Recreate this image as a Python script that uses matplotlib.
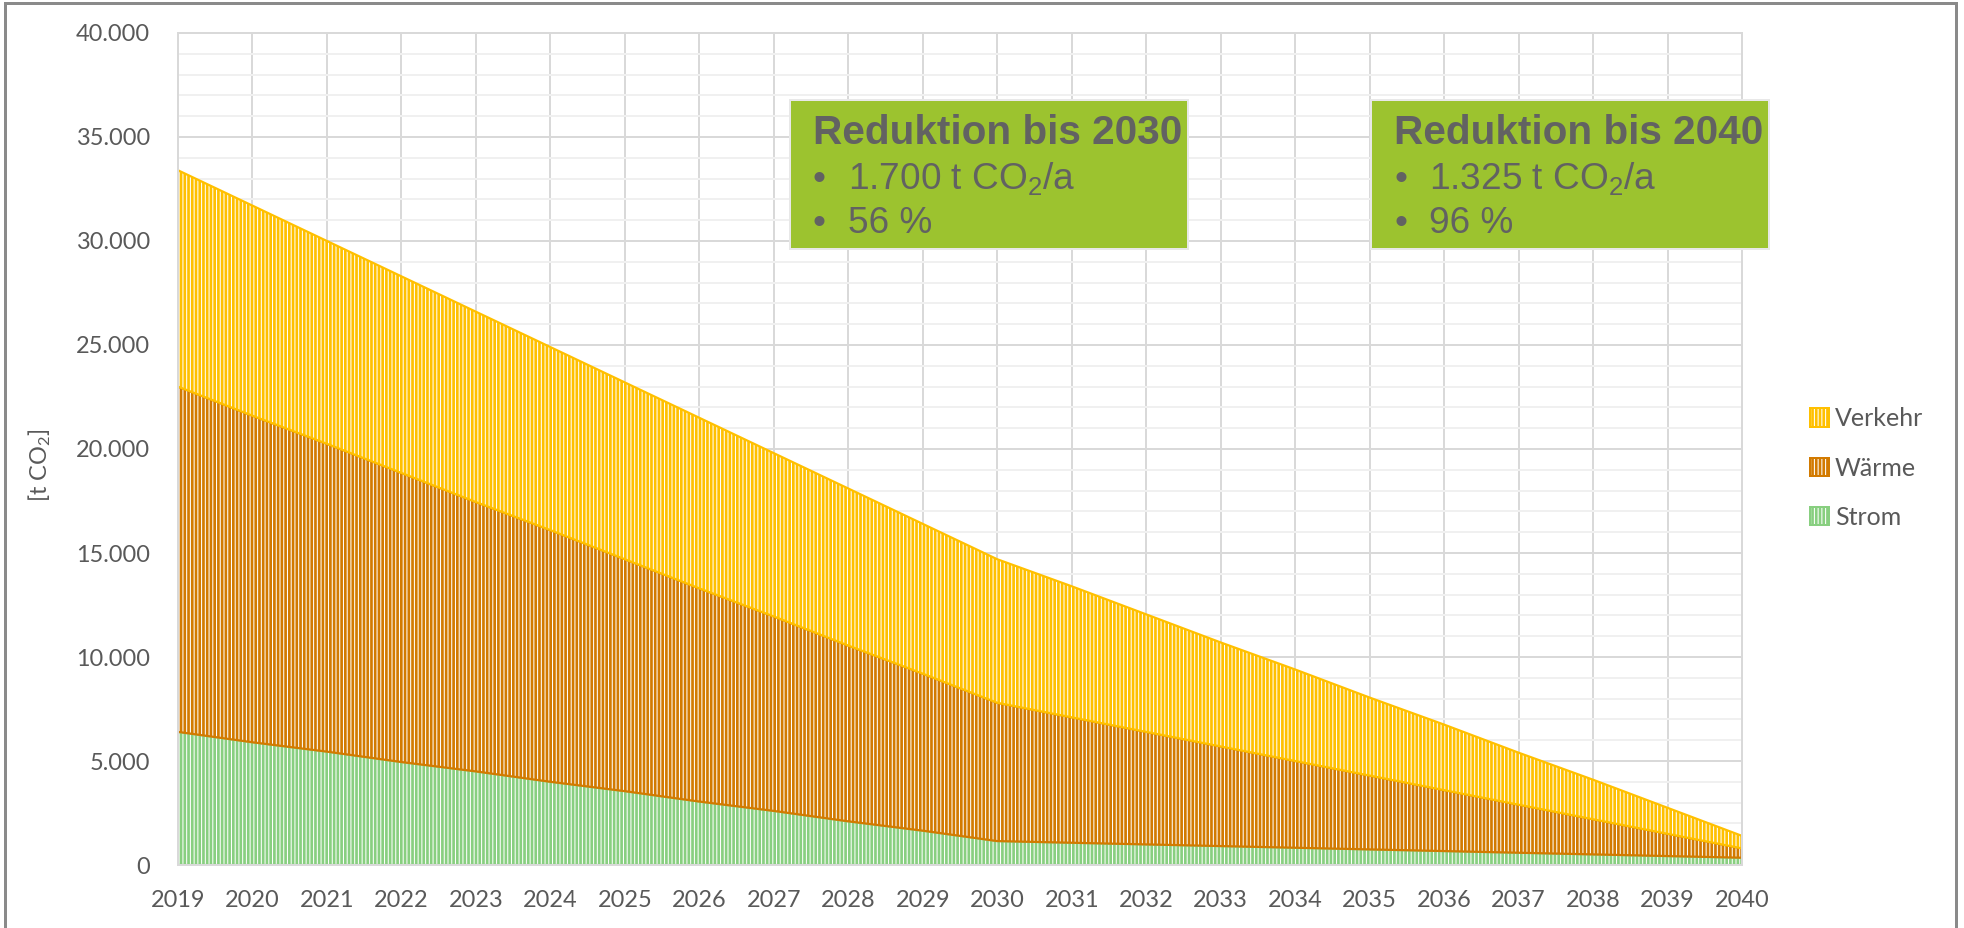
import numpy as np
import matplotlib.pyplot as plt
from matplotlib.patches import Rectangle, Patch
from matplotlib.ticker import MultipleLocator, FuncFormatter

years = list(range(2019, 2041))
strom = [6400, 5900, 5450, 4950, 4500, 4000, 3550, 3050, 2600, 2100, 1650,
         1150, 1070, 990, 910, 830, 750, 670, 590, 510, 430, 350]
waerme = [16600, 15700, 14800, 13900, 12950, 12100, 11150, 10250, 9350, 8450, 7550,
          6650, 6030, 5410, 4790, 4170, 3550, 2930, 2310, 1690, 1070, 450]
verkehr = [10400, 10100, 9750, 9450, 9150, 8800, 8500, 8200, 7850, 7550, 7200,
           6900, 6300, 5650, 5000, 4400, 3750, 3150, 2500, 1900, 1250, 600]
names = ["Strom", "Wärme", "Verkehr"]
colors = ["#88cf80", "#d27a00", "#ffc000"]

box_titles = ["Reduktion bis 2030", "Reduktion bis 2040"]
box_lines = [["1.700 t CO$\\mathregular{_2}$/a", "56 %"],
             ["1.325 t CO$\\mathregular{_2}$/a", "96 %"]]

W, H = 1964, 928
DPI = 112.5  # hatch tile = 1 inch, this gives ~3.75 px stripe spacing


def fx(px):
    return px / W


def fy(py):
    return 1 - py / H


def pt(px):
    return px * 72 / DPI


plt.rcParams['hatch.linewidth'] = pt(2.7)
plt.rcParams['font.family'] = ['Lato', 'DejaVu Sans']
grey = "#595959"

fig = plt.figure(figsize=(W / DPI, H / DPI), dpi=DPI)
ax = fig.add_axes([fx(178), fy(865), fx(1742) - fx(178), fy(33) - fy(865)])

base = np.zeros(len(years))
for vals, name, col in zip([strom, waerme, verkehr], names, colors):
    top = base + np.array(vals)
    ax.fill_between(years, base, top, facecolor="white", edgecolor=col,
                    hatch="|||||", linewidth=pt(2.2), zorder=2)
    base = top

ax.set_xlim(2019, 2040)
ax.set_ylim(0, 40000)
ax.set_xticks(years)
ax.yaxis.set_major_locator(MultipleLocator(5000))
ax.yaxis.set_minor_locator(MultipleLocator(1000))
ax.yaxis.set_major_formatter(FuncFormatter(lambda v, p: f"{int(v):,}".replace(",", ".")))
ax.set_axisbelow(True)
ax.grid(which="major", color="#d9d9d9", linewidth=pt(2))
ax.grid(which="minor", axis="y", color="#f0f0f0", linewidth=pt(2))
ax.tick_params(which="both", length=0, colors=grey, labelsize=pt(23.5))
ax.tick_params(axis="y", pad=pt(28))
ax.tick_params(axis="x", pad=pt(25))
for s in ax.spines.values():
    s.set_color("#d9d9d9")
    s.set_linewidth(pt(2))

fig.text(fx(40), fy(465), "[t CO$\\mathregular{_2}$]", rotation=90, color=grey,
         fontsize=pt(23.5), ha="center", va="center")

handles = [Patch(facecolor="white", edgecolor=c, hatch="|||||", linewidth=pt(2))
           for c in colors[::-1]]
fig.legend(handles, names[::-1], loc="center left", bbox_to_anchor=(fx(1810), fy(468)),
           frameon=False, fontsize=pt(25), labelcolor=grey, handlelength=0.75,
           handleheight=0.75, handletextpad=0.25, labelspacing=1.05,
           borderpad=0, borderaxespad=0)

# text boxes
box_x = [(790, 1188), (1371, 1769)]
for (x0, x1), title, lines in zip(box_x, box_titles, box_lines):
    fig.patches.append(Rectangle((fx(x0), fy(249)), fx(x1) - fx(x0), fy(100) - fy(249),
                                 transform=fig.transFigure, facecolor="#9cc32f",
                                 edgecolor="#e8e8e8", linewidth=pt(2)))
    fig.text(fx(x0 + 23), fy(144), title, fontsize=pt(40.5), fontweight="bold",
             color="#626262", family="Liberation Sans", va="baseline")
    for i, line in enumerate(lines):
        yb = 189 + i * 44
        fig.text(fx(x0 + 23), fy(yb), "•", fontsize=pt(37), color="#626262",
                 family="Liberation Sans", va="baseline")
        fig.text(fx(x0 + 58), fy(yb), line, fontsize=pt(37), color="#626262",
                 family="Liberation Sans", va="baseline")

# outer frame
fig.patches.append(Rectangle((fx(5), fy(940)), fx(1956) - fx(5), fy(3) - fy(940),
                             transform=fig.transFigure, facecolor="none",
                             edgecolor="#8a8a8a", linewidth=pt(3), clip_on=False))

fig.savefig("out.png", dpi=DPI)
